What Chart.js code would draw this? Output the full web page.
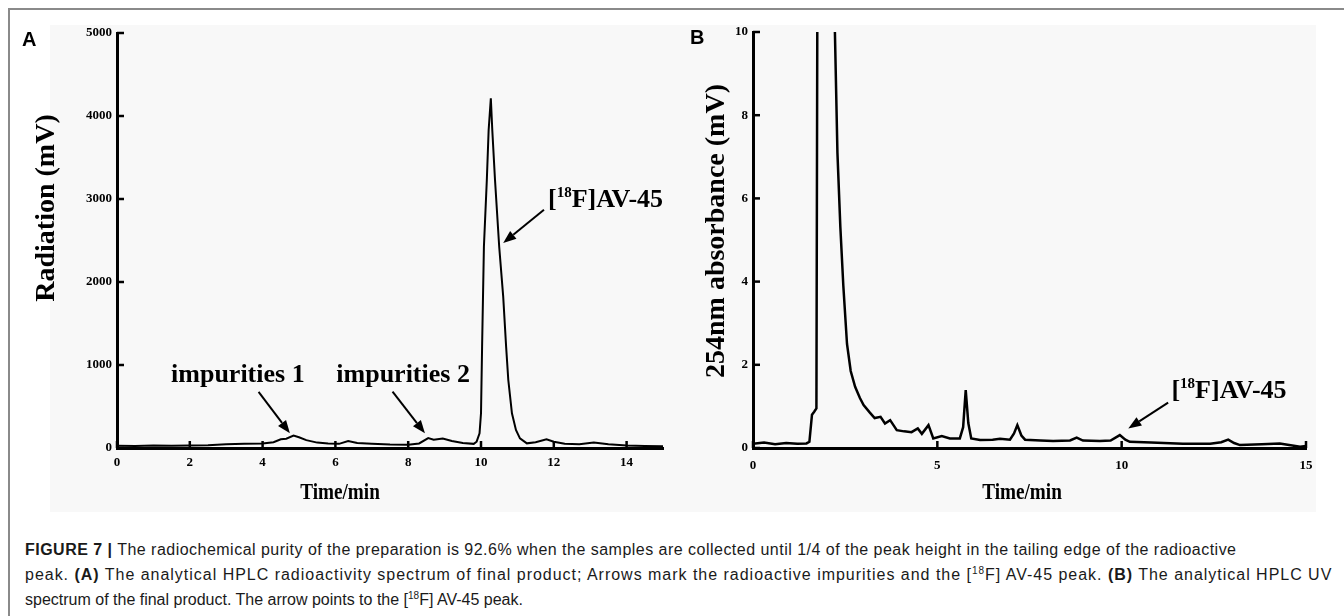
<!DOCTYPE html>
<html>
<head>
<meta charset="utf-8">
<script src="https://cdn.jsdelivr.net/npm/chart.js@4.4.1/dist/chart.umd.min.js"></script>
<style>
  body { margin: 0; width: 1344px; height: 616px; overflow: hidden; position: relative; background: #fff; }
  #frame { position: absolute; left: 8px; top: 8px; width: 1340px; height: 620px; border-top: 2px solid #8a8a8a; border-left: 2px solid #8a8a8a; }
  #plotbg { position: absolute; left: 50px; top: 25px; width: 1266px; height: 487px; background: #f8f8f8; }
  .panel { position: absolute; top: 0; }
  .tag { position: absolute; font: bold 20px "Liberation Sans", Arial, sans-serif; line-height: 20px; color: #000; }
  #caption { position: absolute; left: 25px; top: 537px; font-family: "Liberation Sans", Arial, sans-serif; font-size: 16px; line-height: 25px; color: #1a1a1a; white-space: nowrap; }
  #caption div { height: 25px; }
  #caption sup { font-size: 10px; line-height: 0; }
</style>
</head>
<body>
<div id="frame"></div>
<div id="plotbg"></div>
<canvas id="chartA" class="panel" width="672" height="520" style="left:0"></canvas>
<canvas id="chartB" class="panel" width="672" height="520" style="left:672px"></canvas>
<div class="tag" style="left:22px; top:29px">A</div>
<div class="tag" style="left:690px; top:27px">B</div>
<div id="caption">
<div style="letter-spacing:0.48px"><b>FIGURE 7 |</b> The radiochemical purity of the preparation is 92.6% when the samples are collected until 1/4 of the peak height in the tailing edge of the radioactive</div>
<div style="letter-spacing:0.98px">peak. <b>(A)</b> The analytical HPLC radioactivity spectrum of final product; Arrows mark the radioactive impurities and the [<sup>18</sup>F] AV-45 peak. <b>(B)</b> The analytical HPLC UV</div>
<div>spectrum of the final product. The arrow points to the [<sup>18</sup>F] AV-45 peak.</div>
</div>
<script>
// panel A - radioactivity trace (time in min, radiation in mV)
var timeA = [0, 0.5, 1.0, 1.5, 2.0, 2.5, 3.0, 3.5, 4.0, 4.3, 4.5, 4.65, 4.85, 5.0, 5.2, 5.5, 5.8, 6.1, 6.35, 6.6,
  7.0, 7.5, 8.0, 8.3, 8.55, 8.7, 8.95, 9.2, 9.5, 9.8, 9.88, 9.96, 10.0, 10.03, 10.08, 10.16, 10.21, 10.27,
  10.31, 10.385, 10.5, 10.61, 10.69, 10.75, 10.85, 10.96, 11.07, 11.26, 11.5, 11.8, 12.0, 12.3, 12.7,
  13.1, 13.5, 14.0, 14.5, 15.0];
var radiationA = [28, 25, 30, 27, 30, 32, 45, 50, 55, 70, 105, 112, 150, 130, 95, 65, 55, 50, 85, 60,
  50, 42, 40, 55, 120, 100, 115, 85, 60, 50, 76, 177, 418, 1221, 2425, 3229, 3831, 4213,
  3831, 3229, 2425, 1823, 1221, 819, 418, 217, 116, 56, 70, 105, 75, 50, 45,
  65, 45, 30, 25, 20];
var xTicksA = [0, 2, 4, 6, 8, 10, 12, 14];
var yTicksA = [0, 1000, 2000, 3000, 4000, 5000];

// panel B - UV trace at 254 nm (time in min, absorbance in mV)
var timeB = [0, 0.3, 0.6, 0.9, 1.2, 1.45, 1.53, 1.6, 1.66, 1.72, 1.745, 1.95, 2.21, 2.29, 2.37, 2.45, 2.55,
  2.65, 2.77, 2.9, 3.0, 3.17, 3.3, 3.46, 3.58, 3.72, 3.9, 4.1, 4.3, 4.47, 4.58, 4.76, 4.89, 5.12, 5.34,
  5.61, 5.7, 5.77, 5.84, 5.92, 6.16, 6.5, 6.7, 6.97, 7.08, 7.17, 7.28, 7.38, 7.8, 8.14, 8.6, 8.78, 8.95,
  9.41, 9.7, 9.95, 10.1, 10.22, 10.8, 11.66, 12.4, 12.7, 12.89, 13.05, 13.21, 13.8, 14.29, 14.5, 14.84, 15];
var absorbanceB = [0.1, 0.13, 0.09, 0.12, 0.1, 0.11, 0.15, 0.8, 0.87, 0.95, 10.5, 60, 10.5, 7.1, 5.3, 3.9, 2.5,
  1.85, 1.47, 1.2, 1.03, 0.85, 0.72, 0.75, 0.59, 0.67, 0.43, 0.4, 0.38, 0.47, 0.34, 0.55, 0.23, 0.29, 0.23,
  0.23, 0.5, 1.39, 0.6, 0.23, 0.19, 0.2, 0.22, 0.2, 0.35, 0.55, 0.3, 0.2, 0.18, 0.17, 0.18, 0.25, 0.18,
  0.17, 0.18, 0.31, 0.2, 0.15, 0.13, 0.1, 0.1, 0.14, 0.2, 0.12, 0.07, 0.09, 0.11, 0.08, 0.03, 0.05];
var xTicksB = [0, 5, 10, 15];
var yTicksB = [0, 2, 4, 6, 8, 10];

// annotations, in data units
var notesA = {
  labels: [
    { x: 3.32, y: 795, text: "impurities 1", align: "center" },
    { x: 7.86, y: 795, text: "impurities 2", align: "center" },
    { x: 11.84, y: 2904, pre: "[", sup: "18", text: "F]AV-45", align: "left" }
  ],
  arrows: [[3.89, 675, 4.75, 177], [7.57, 678, 8.46, 177], [11.73, 2870, 10.61, 2470]]
};
var notesB = {
  labels: [{ x: 11.35, y: 1.19, pre: "[", sup: "18", text: "F]AV-45", align: "left" }],
  arrows: [[11.26, 1.09, 10.18, 0.47]]
};

var serif = "'Liberation Serif', 'Times New Roman', serif";

function drawArrow(ctx, x1, y1, x2, y2) {
  var ang = Math.atan2(y2 - y1, x2 - x1);
  var len = 13, half = 5;
  var bx = x2 - len * Math.cos(ang), by = y2 - len * Math.sin(ang);
  ctx.lineWidth = 2;
  ctx.beginPath();
  ctx.moveTo(x1, y1);
  ctx.lineTo(bx, by);
  ctx.stroke();
  ctx.beginPath();
  ctx.moveTo(x2, y2);
  ctx.lineTo(bx + half * Math.sin(ang), by - half * Math.cos(ang));
  ctx.lineTo(bx - half * Math.sin(ang), by + half * Math.cos(ang));
  ctx.closePath();
  ctx.fill();
}

// draws inward tick marks, axis titles, arrows and peak labels
var notesPlugin = {
  id: "notes",
  afterDatasetsDraw: function (chart, args, opts) {
    var ctx = chart.ctx;
    var xs = chart.scales.x, ys = chart.scales.y;
    ctx.save();
    ctx.fillStyle = "#000";
    ctx.strokeStyle = "#000";

    ctx.lineWidth = 2.5;
    ys.ticks.forEach(function (t) {
      var py = ys.getPixelForValue(t.value);
      ctx.beginPath(); ctx.moveTo(xs.left, py); ctx.lineTo(xs.left + 7, py); ctx.stroke();
    });
    xs.ticks.forEach(function (t) {
      var px = xs.getPixelForValue(t.value);
      ctx.beginPath(); ctx.moveTo(px, ys.bottom); ctx.lineTo(px, ys.bottom - 7); ctx.stroke();
    });

    // axis titles
    ctx.textAlign = "center";
    ctx.textBaseline = "middle";
    ctx.save();
    ctx.translate(opts.yTitle.x, opts.yTitle.y);
    ctx.rotate(-Math.PI / 2);
    ctx.font = "bold 28px " + serif;
    ctx.fillText(opts.yTitle.text, 0, 0);
    ctx.restore();
    ctx.save();
    ctx.translate(opts.xTitle.x, opts.xTitle.y);
    ctx.scale(0.8, 1);
    ctx.font = "bold 24px " + serif;
    ctx.fillText(opts.xTitle.text, 0, 0);
    ctx.restore();

    (opts.arrows || []).forEach(function (a) {
      drawArrow(ctx, xs.getPixelForValue(a[0]), ys.getPixelForValue(a[1]),
        xs.getPixelForValue(a[2]), ys.getPixelForValue(a[3]));
    });

    ctx.textBaseline = "alphabetic";
    (opts.labels || []).forEach(function (l) {
      var px = xs.getPixelForValue(l.x), py = ys.getPixelForValue(l.y);
      var big = "bold 26px " + serif, small = "bold 15px " + serif;
      ctx.font = big;
      if (l.align === "center") {
        ctx.textAlign = "center";
        ctx.fillText(l.text, px, py);
        return;
      }
      ctx.textAlign = "left";
      var cx = px;
      if (l.pre) { ctx.fillText(l.pre, cx, py); cx += ctx.measureText(l.pre).width; }
      if (l.sup) { ctx.font = small; ctx.fillText(l.sup, cx, py - 10); cx += ctx.measureText(l.sup).width; ctx.font = big; }
      ctx.fillText(l.text, cx, py);
    });
    ctx.restore();
  }
};

function makePoints(xs, ys) {
  return xs.map(function (v, i) { return { x: v, y: ys[i] }; });
}

function plainLabel(v) {
  return String(v);
}

function setChart(id, cfg) {
  var ctx = document.getElementById(id).getContext("2d");
  return new Chart(ctx, {
    type: "line",
    data: {
      datasets: [{
        data: makePoints(cfg.time, cfg.values),
        borderColor: "#000",
        borderWidth: cfg.lineWidth,
        pointRadius: 0,
        tension: 0,
        fill: false
      }]
    },
    plugins: [notesPlugin],
    options: {
      responsive: false,
      animation: false,
      layout: { padding: { left: 0, right: cfg.padRight, top: cfg.padTop, bottom: 0 } },
      plugins: {
        legend: { display: false },
        tooltip: { enabled: false },
        notes: cfg.notes
      },
      scales: {
        x: {
          type: "linear",
          min: 0,
          max: 15,
          afterBuildTicks: function (s) { s.ticks = cfg.xTicks.map(function (v) { return { value: v }; }); },
          afterFit: function (s) { s.height = 72; },
          grid: { display: false, drawTicks: false },
          border: { display: true, color: "#000", width: 3 },
          ticks: { color: "#000", padding: cfg.xLabelPad, callback: plainLabel, font: { family: serif, size: 13, weight: "bold" } }
        },
        y: {
          type: "linear",
          min: 0,
          max: cfg.yMax,
          afterBuildTicks: function (s) { s.ticks = cfg.yTicks.map(function (v) { return { value: v }; }); },
          afterFit: function (s) { s.width = cfg.yWidth; },
          grid: { display: false, drawTicks: false },
          border: { display: true, color: "#000", width: 3 },
          ticks: { color: "#000", padding: 5, callback: plainLabel, font: { family: serif, size: 13, weight: "bold" } }
        }
      }
    }
  });
}

notesA.yTitle = { text: "Radiation (mV)", x: 47, y: 208 };
notesA.xTitle = { text: "Time/min", x: 340, y: 493 };
notesB.yTitle = { text: "254nm absorbance (mV)", x: 45, y: 231 };
notesB.xTitle = { text: "Time/min", x: 350, y: 493 };

setChart("chartA", {
  time: timeA, values: radiationA, lineWidth: 2,
  xTicks: xTicksA, yTicks: yTicksA, yMax: 5000, yWidth: 117,
  padRight: 9, padTop: 33, xLabelPad: 7, notes: notesA
});

setChart("chartB", {
  time: timeB, values: absorbanceB, lineWidth: 2.5,
  xTicks: xTicksB, yTicks: yTicksB, yMax: 10, yWidth: 81,
  padRight: 38, padTop: 32, xLabelPad: 10, notes: notesB
});
</script>
</body>
</html>
